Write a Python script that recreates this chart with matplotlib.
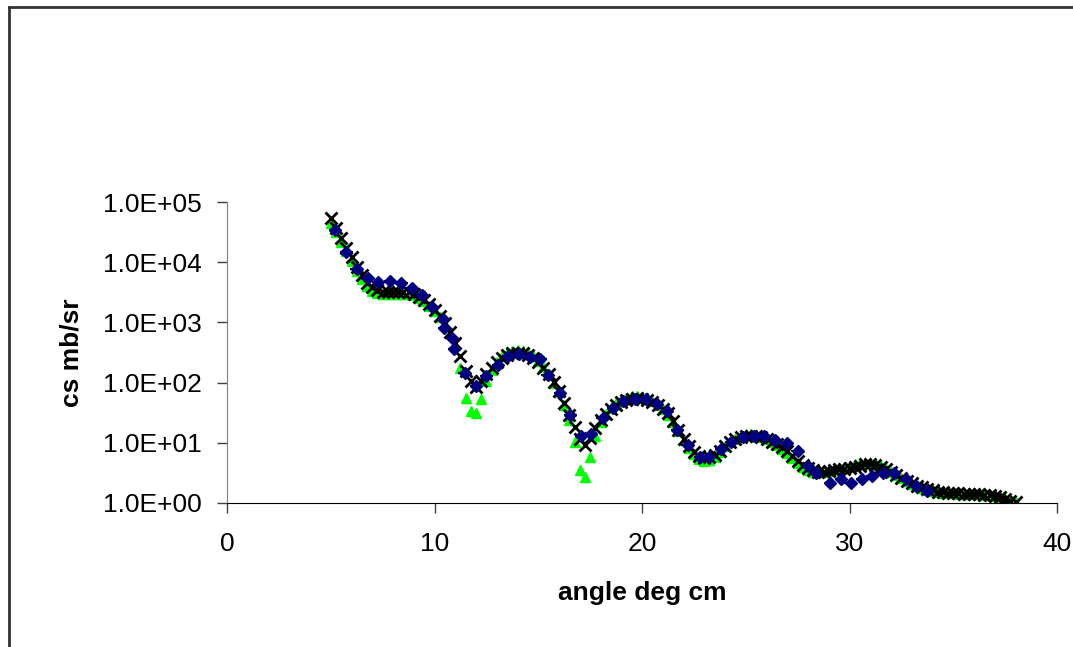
import numpy as np
import matplotlib
matplotlib.use("Agg")
import matplotlib.pyplot as plt
from matplotlib.ticker import FuncFormatter, FixedLocator
from matplotlib.lines import Line2D

plt.rcParams['font.family'] = ['Liberation Sans', 'DejaVu Sans']

# calculated curves, angle grid 5..38 deg cm in 0.25 steps
angle_calc = np.arange(5.0, 38.001, 0.25)

# log10(cs) of the black (x) curve
log_cs_black = [
    4.73, 4.56, 4.40, 4.24, 4.08, 3.92, 3.78, 3.66,
    3.58, 3.53, 3.51, 3.51, 3.51, 3.51, 3.51, 3.50,
    3.47, 3.42, 3.37, 3.30, 3.21, 3.11, 2.99, 2.84,
    2.66, 2.45, 2.20, 2.02, 1.93, 2.02, 2.14, 2.25,
    2.34, 2.41, 2.46, 2.49, 2.50, 2.49, 2.46, 2.41,
    2.34, 2.25, 2.14, 2.01, 1.86, 1.66, 1.46, 1.26,
    1.07, 0.97, 1.08, 1.25, 1.38, 1.48, 1.56, 1.63,
    1.68, 1.71, 1.73, 1.74, 1.73, 1.71, 1.67, 1.62,
    1.56, 1.49, 1.36, 1.21, 1.07, 0.95, 0.85, 0.78,
    0.75, 0.76, 0.80, 0.87, 0.95, 1.01, 1.06, 1.10,
    1.12, 1.12, 1.11, 1.09, 1.06, 1.02, 0.98, 0.93,
    0.86, 0.78, 0.70, 0.63, 0.58, 0.54, 0.52, 0.52,
    0.53, 0.54, 0.56, 0.57, 0.58, 0.60, 0.62, 0.64,
    0.65, 0.63, 0.60, 0.56, 0.51, 0.46, 0.41, 0.37,
    0.33, 0.29, 0.26, 0.23, 0.21, 0.19, 0.18, 0.17,
    0.16, 0.16, 0.15, 0.15, 0.15, 0.15, 0.14, 0.13,
    0.12, 0.10, 0.07, 0.04, 0.02,
]

# log10(cs) of the green (triangle) curve
log_cs_green = [
    4.65, 4.50, 4.34, 4.18, 4.02, 3.86, 3.72, 3.60,
    3.52, 3.49, 3.48, 3.48, 3.48, 3.48, 3.48, 3.47,
    3.45, 3.40, 3.35, 3.28, 3.19, 3.09, 2.97, 2.82,
    2.62, 2.25, 1.74, 1.53, 1.50, 1.72, 2.03, 2.21,
    2.35, 2.44, 2.50, 2.53, 2.54, 2.53, 2.50, 2.44,
    2.36, 2.26, 2.14, 2.00, 1.84, 1.63, 1.38, 1.02,
    0.55, 0.44, 0.76, 1.12, 1.35, 1.48, 1.58, 1.66,
    1.71, 1.75, 1.77, 1.77, 1.76, 1.73, 1.69, 1.63,
    1.56, 1.47, 1.35, 1.20, 1.05, 0.92, 0.81, 0.73,
    0.70, 0.71, 0.77, 0.85, 0.94, 1.01, 1.07, 1.11,
    1.14, 1.14, 1.13, 1.10, 1.06, 1.01, 0.96, 0.90,
    0.83, 0.75, 0.67, 0.60, 0.55, 0.52, 0.51, 0.51,
    0.53, 0.55, 0.58, 0.60, 0.62, 0.64, 0.66, 0.67,
    0.67, 0.65, 0.61, 0.56, 0.51, 0.46, 0.41, 0.36,
    0.32, 0.28, 0.25, 0.22, 0.20, 0.18, 0.17, 0.16,
    0.16, 0.15, 0.15, 0.15, 0.15, 0.15, 0.14, 0.13,
    0.12, 0.10, 0.07, 0.04, 0.01,
]

# measured points (blue diamonds)
angle_data = [5.2, 5.75, 6.25, 6.8, 7.3, 7.85, 8.4, 8.9, 9.4, 9.9,
              10.4, 10.45, 10.85, 10.95, 11.45, 12.0, 12.5, 13.05, 13.55, 14.05,
              14.6, 15.1, 15.45, 16.05, 16.55, 17.05, 17.55, 18.1, 18.6, 19.1,
              19.65, 20.2, 20.7, 21.2, 21.7, 22.2, 22.8, 23.25, 23.8, 24.3,
              24.85, 25.4, 25.9, 26.4, 27.0, 27.5, 28.0, 28.4, 29.05, 29.6,
              30.05, 30.6, 31.1, 31.6, 32.15, 32.7, 33.2, 33.75]
log_cs_data = [4.535, 4.17, 3.89, 3.74, 3.67, 3.69, 3.65, 3.57, 3.45, 3.25,
               3.06, 2.91, 2.74, 2.56, 2.16, 1.94, 2.11, 2.29, 2.44, 2.48,
               2.43, 2.39, 2.13, 1.83, 1.47, 1.11, 1.15, 1.41, 1.58, 1.69,
               1.73, 1.73, 1.64, 1.53, 1.21, 0.96, 0.76, 0.76, 0.90, 1.01,
               1.10, 1.11, 1.11, 1.05, 1.00, 0.87, 0.62, 0.50, 0.33, 0.40,
               0.33, 0.40, 0.45, 0.50, 0.50, 0.40, 0.28, 0.20]
angle_err = 0.3

y_ticks = [1e0, 1e1, 1e2, 1e3, 1e4, 1e5]
x_ticks = [0, 10, 20, 30, 40]

fig = plt.figure(figsize=(10.73, 6.47), dpi=100)
ax = fig.add_axes([227 / 1073, 144 / 647, 830 / 1073, 301 / 647])

cs_black = 10 ** np.array(log_cs_black)
cs_green = 10 ** np.array(log_cs_green)
cs_data = 10 ** np.array(log_cs_data)

ax.plot(angle_calc, cs_green, linestyle='none', marker='^', markersize=7,
        color='#00ff00', markeredgecolor='#00ff00', zorder=2)
ax.plot(angle_calc, cs_black, linestyle='none', marker='x', markersize=8,
        markeredgewidth=2.0, color='black', zorder=3)
ax.errorbar(angle_data, cs_data, xerr=angle_err, fmt='none', ecolor='black',
            elinewidth=1.5, capsize=0, zorder=4)
ax.plot(angle_data, cs_data, linestyle='none', marker='D', markersize=6,
        color='#000080', markeredgecolor='#000080', zorder=5)

ax.set_yscale('log')
ax.set_xlim(0, 40)
ax.set_ylim(1, 1e5)
ax.yaxis.set_major_locator(FixedLocator(y_ticks))
ax.yaxis.set_minor_locator(FixedLocator([]))
ax.yaxis.set_major_formatter(FuncFormatter(lambda v, p: f"{v:.1E}"))
ax.set_xticks(x_ticks)

ax.spines['top'].set_visible(False)
ax.spines['right'].set_visible(False)
ax.spines['left'].set_color('#808080')
ax.spines['bottom'].set_color('black')
ax.tick_params(axis='both', direction='out', length=7, width=1,
               colors='#404040', labelcolor='black', labelsize=19)
ax.tick_params(axis='y', pad=11)
ax.tick_params(axis='x', pad=14)

ax.set_xlabel('angle deg cm', fontsize=19, fontweight='bold', labelpad=18)
ax.set_ylabel('cs mb/sr', fontsize=19, fontweight='bold', labelpad=14)

# chart area border (only top and left edges fall inside the picture)
fig.add_artist(Line2D([8.5 / 1073, 8.5 / 1073], [0, 1 - 7 / 647],
                      color='#333333', lw=2, transform=fig.transFigure))
fig.add_artist(Line2D([8.5 / 1073, 1], [1 - 7 / 647, 1 - 7 / 647],
                      color='#333333', lw=2, transform=fig.transFigure))

fig.savefig('out.png', dpi=100)
